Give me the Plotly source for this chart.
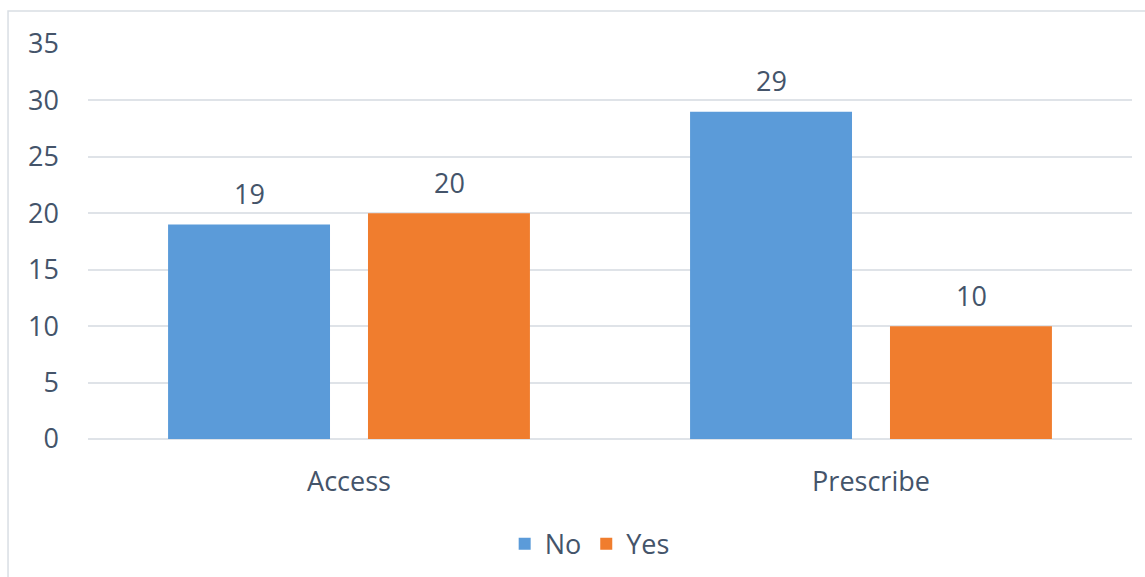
import plotly.graph_objects as go

categories = ["Access", "Prescribe"]
series_names = ["No", "Yes"]
no_values = [19, 29]
yes_values = [20, 10]
y_ticks = [0, 5, 10, 15, 20, 25, 30, 35]

colors = {"No": "#5b9bd9", "Yes": "#f07d2e"}
font_color = "#44546a"
font_family = "'Open Sans', sans-serif"
fs = 27

fig = go.Figure()
for name, vals in zip(series_names, [no_values, yes_values]):
    fig.add_trace(go.Bar(
        x=categories, y=vals, name=name,
        marker=dict(color=colors[name], line=dict(width=0)),
    ))

# data labels above bars
offsets = {"No": -100, "Yes": 100}
for name, vals in zip(series_names, [no_values, yes_values]):
    for c, v in zip(categories, vals):
        fig.add_annotation(x=c, y=v, text=str(v), showarrow=False,
                           xshift=offsets[name], yshift=31, yanchor="middle",
                           font=dict(size=fs, color=font_color, family=font_family))

# outer border
fig.add_shape(type="rect", xref="paper", yref="paper",
              x0=-0.0766, x1=1.03, y0=-0.5, y1=1.0835,
              line=dict(color="#d9dee4", width=1.5), fillcolor="rgba(0,0,0,0)", layer="below")

fig.update_layout(
    width=1145, height=577,
    margin=dict(l=88, r=13, t=44, b=138),
    paper_bgcolor="white", plot_bgcolor="white",
    barmode="group", bargap=0.234, bargroupgap=0.19,
    font=dict(family=font_family, size=fs, color=font_color),
    showlegend=True,
    legend=dict(orientation="h", xref="container", yref="container", x=0.515, xanchor="center",
                y=0.057, yanchor="middle",
                font=dict(size=fs, color=font_color), itemwidth=30, traceorder="normal"),
    xaxis=dict(showgrid=False, showline=False, ticks="", ticklabelstandoff=24, automargin=False,
               tickfont=dict(size=fs, color=font_color)),
    yaxis=dict(range=[0, 35], tickvals=y_ticks, showgrid=True, gridcolor="#dfe3e8", gridwidth=1.5,
               zeroline=True, zerolinecolor="#dfe3e8", zerolinewidth=1.5, showline=False, automargin=False,
               ticks="", ticklabelstandoff=28, tickfont=dict(size=fs, color=font_color)),
)

fig.write_html("out.html")
